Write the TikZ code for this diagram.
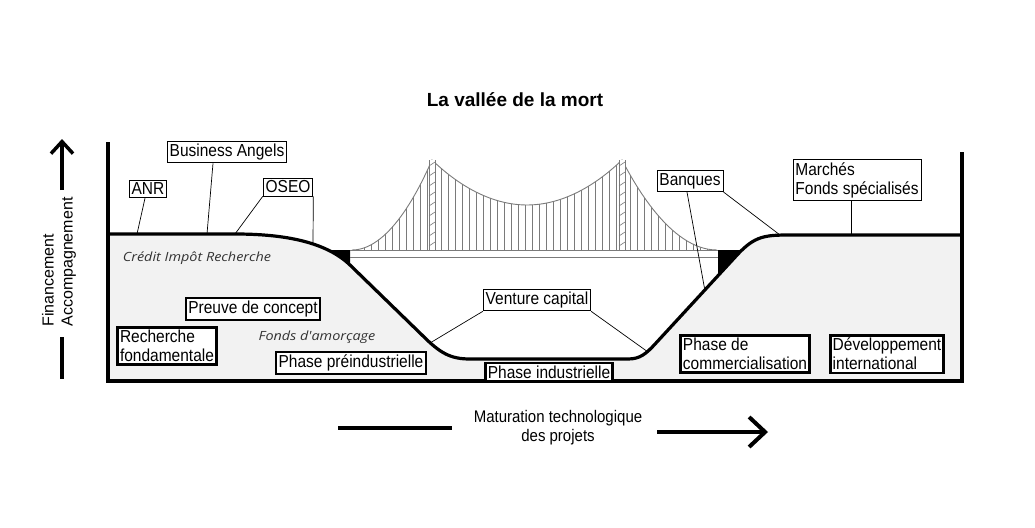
\documentclass[tikz,border=0pt]{standalone}
\usepackage{fontspec}
\setmainfont{Liberation Sans}
\newfontfamily\kaldfont{Open Sans}
\usetikzlibrary{arrows.meta}
\definecolor{maa}{HTML}{F2F2F2}
\definecolor{sild}{HTML}{7A7A7A}
\begin{document}
\begin{tikzpicture}[x=1pt,y=-1pt,
  silt/.style={draw,fill=white,line width=0.8pt,inner xsep=2.5pt,inner ysep=2.5pt,
    align=left,font=\fontsize{15.5}{17}\selectfont,yscale=1.12,transform shape},
  paks/.style={silt,line width=2.6pt},
  juhe/.style={line width=0.7pt},
  kald/.style={font=\kaldfont\itshape\fontsize{14.4}{16}\selectfont,text=black!80,yscale=0.88,transform shape},
  nool/.style={line width=3.5pt,-{Straight Barb[length=12pt,width=22pt]}}]
\useasboundingbox (0,0) rectangle (1035,527);
\node[font=\bfseries\fontsize{19}{22}\selectfont] (pealkiri) at (515,100) {La vallée de la mort};
% maapind
\fill[maa] (108,234) -- (235,234) .. controls (285,234) and (326,242) .. (350,265)
  -- (422,335) .. controls (440,353) and (450,359) .. (470,359) -- (628,359)
  .. controls (640,359) and (646,354) .. (656,343) -- (738,254)
  .. controls (755,236) and (765,235) .. (790,235) -- (962,235) -- (962,381) -- (108,381) -- cycle;
\fill (328,250) -- (350,250) -- (350,265) -- (340.6,257.4) -- cycle;
\fill (718,250) -- (741.5,250) -- (718,275.7) -- cycle;
% sild
\draw[sild,line width=0.8pt] (350,250) -- (718,250) (350,257) -- (718,257);
\begin{scope}
\clip (352,250) parabola (432,160) parabola bend (527,205) (622,160) parabola[bend at end] (717,250) -- cycle;
\foreach \x in {357,364,...,714} \draw[sild,line width=0.7pt] (\x,150) -- (\x,250);
\end{scope}
\draw[sild,line width=0.9pt] (352,250) parabola (432,160) parabola bend (527,205) (622,160) parabola[bend at end] (717,250);
\foreach \t in {429,619} {
  \fill[white] (\t,160) rectangle (\t+6,250);
  \draw[sild,line width=0.8pt] (\t,160) -- (\t,250) (\t+6,160) -- (\t+6,250);
  \foreach \y in {166,176,...,246} \draw[sild,line width=0.6pt] (\t,\y) -- (\t+6,\y-4);
}
\draw[line width=3.2pt] (108,234) -- (235,234) .. controls (285,234) and (326,242) .. (350,265)
  -- (422,335) .. controls (440,353) and (450,359) .. (470,359) -- (628,359)
  .. controls (640,359) and (646,354) .. (656,343) -- (738,254)
  .. controls (755,236) and (765,235) .. (790,235) -- (962,235);
% teljed
\draw[line width=3.8pt] (108,142) -- (108,381) -- (962,381) -- (962,152);
% kasti
\node[silt] (angels) at (227,152) {Business Angels};
\node[silt] (anr) at (148,189) {ANR};
\node[silt] (oseo) at (288,187) {OSEO};
\node[silt] (venture) at (537,300) {Venture capital};
\node[silt] (banques) at (690,181) {Banques};
\node[silt] (marches) at (857,180) {Marchés\\Fonds spécialisés};
\node[paks] (preuve) at (253,309) {Preuve de concept};
\node[paks] (recherche) at (167,346) {Recherche\\fondamentale};
\node[paks] (preind) at (351,363) {Phase préindustrielle};
\node[paks] (ind) at (549,372) {Phase industrielle};
\node[paks] (commerc) at (745,354) {Phase de\\commercialisation};
\node[paks] (devel) at (887,354) {Développement\\international};
\node[kald] (cir) at (197,258) {Crédit Impôt Recherche};
\node[kald] (amorcage) at (317,337) {Fonds d'amorçage};
% juhtjooned
\coordinate (m-anr) at (137,234);
\coordinate (m-angels) at (207,234);
\coordinate (m-oseo) at (235,234);
\coordinate (m-oseo2) at (313,245);
\coordinate (m-vc1) at (430,343);
\coordinate (m-vc2) at (648,352);
\coordinate (m-banq1) at (705,291);
\coordinate (m-banq2) at (780,235);
\coordinate (m-marches) at (851,235);
\draw[juhe] ([xshift=-3pt]anr.south) -- (m-anr);
\draw[juhe] ([xshift=-14pt]angels.south) -- (m-angels);
\draw[juhe] (oseo.south west) -- (m-oseo);
\draw[juhe] (oseo.south east) -- (m-oseo2);
\draw[juhe] (venture.south west) -- (m-vc1);
\draw[juhe] (venture.south east) -- (m-vc2);
\draw[juhe] ([xshift=-3pt]banques.south) -- (m-banq1);
\draw[juhe] (banques.south east) -- (m-banq2);
\draw[juhe] ([xshift=-6pt]marches.south) -- (m-marches);
% vasak telg
\coordinate (ylesalgus) at (62,190);
\coordinate (ylesots) at (62,139);
\draw[nool] (ylesalgus) -- (ylesots);
\node[rotate=90,align=left,font=\fontsize{16}{19}\selectfont] (finants) at (59,262) {Financement\\Accompagnement};
\coordinate (alla1) at (62,337);
\coordinate (alla2) at (62,379);
\draw[line width=3.5pt] (alla1) -- (alla2);
% alumine telg
\node[align=center,font=\fontsize{15}{17}\selectfont,yscale=1.12,transform shape] (matur) at (558,428) {Maturation technologique\\des projets};
\coordinate (v1) at (338,428);
\coordinate (v2) at (452,428);
\coordinate (p1) at (657,432);
\coordinate (p2) at (768,432);
\draw[line width=4pt] (v1) -- (v2);
\draw[line width=4pt,-{Straight Barb[length=16pt,width=30pt]}] (p1) -- (p2);
\end{tikzpicture}
\end{document}
